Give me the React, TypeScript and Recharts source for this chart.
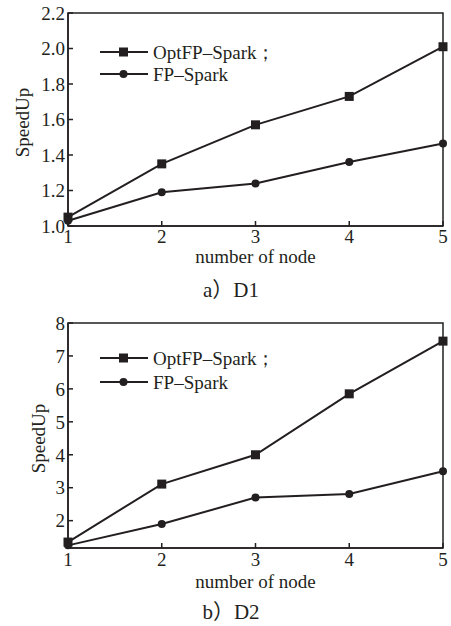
import React from 'react';
import { LineChart, Line, XAxis, YAxis, ReferenceArea, Legend } from 'recharts';

const nodes = [1, 2, 3, 4, 5];
const seriesNames = ['OptFP–Spark；', 'FP–Spark'];

// a) D1
const d1Opt = [1.05, 1.35, 1.57, 1.73, 2.01];
const d1Fp = [1.03, 1.19, 1.24, 1.36, 1.465];
const d1Ticks = [1.0, 1.2, 1.4, 1.6, 1.8, 2.0, 2.2];

// b) D2
const d2Opt = [1.35, 3.11, 4.0, 5.85, 7.45];
const d2Fp = [1.25, 1.9, 2.7, 2.81, 3.5];
const d2Ticks = [2, 3, 4, 5, 6, 7, 8];

const captions = ['a）D1', 'b）D2'];

const INK = '#231f20';
const SERIF = '"Liberation Serif", "Times New Roman", serif';
const CAPTION_FONT = '"Liberation Serif", "Noto Sans CJK SC", serif';

const squareDot = (p: any) => (
  <rect key={`sq-${p.index}`} x={p.cx - 4.5} y={p.cy - 4.5} width={9} height={9} fill={INK} />
);

const LegendBox = ({ gap }: { gap: number }) => (
  <svg width={200} height={gap + 26} style={{ display: 'block' }}>
    {seriesNames.map((name, i) => {
      const y = 12 + i * gap;
      return (
        <g key={name}>
          <line x1={4} x2={52} y1={y} y2={y} stroke={INK} strokeWidth={2} />
          {i === 0 ? (
            <rect x={23} y={y - 4.5} width={9} height={9} fill={INK} />
          ) : (
            <circle cx={27.5} cy={y} r={4} fill={INK} />
          )}
          <text x={57} y={y} dominantBaseline="central" fontFamily={SERIF} fontSize={19} fill={INK}>
            {name}
          </text>
        </g>
      );
    })}
  </svg>
);

type PanelProps = {
  opt: number[];
  fp: number[];
  ticks: number[];
  domain: [number, number];
  fmt: (v: number) => string;
  height: number;
  top: number;
  xTickMargin: number;
  titleOffset: number;
  yTitleX: number;
  legendTop: number;
  legendGap: number;
  caption: string;
  captionTop: number;
};

const Panel = (p: PanelProps) => {
  const data = nodes.map((n, i) => ({ node: n, opt: p.opt[i], fp: p.fp[i] }));
  return (
    <div style={{ position: 'absolute', left: 0, top: p.top, width: 451 }}>
      <LineChart width={451} height={p.height} data={data} margin={{ top: 13, right: 8, left: 0, bottom: 0 }}>
        <ReferenceArea x1={1} x2={5} y1={p.domain[0]} y2={p.domain[1]} fill="none" stroke={INK} strokeWidth={1.5} />
        <XAxis
          dataKey="node"
          type="number"
          domain={[1, 5]}
          ticks={nodes}
          height={44}
          tickSize={-5}
          tickMargin={p.xTickMargin}
          axisLine={{ stroke: INK, strokeWidth: 1.5 }}
          tickLine={{ stroke: INK, strokeWidth: 1.5 }}
          tick={{ fill: INK, fontFamily: SERIF, fontSize: 19 }}
          label={{ value: 'number of node', position: 'insideBottom', offset: p.titleOffset, fill: INK, fontFamily: SERIF, fontSize: 19 }}
        />
        <YAxis
          type="number"
          domain={p.domain}
          ticks={p.ticks}
          width={68}
          tickSize={-5}
          tickMargin={8}
          tickFormatter={p.fmt}
          axisLine={{ stroke: INK, strokeWidth: 1.5 }}
          tickLine={{ stroke: INK, strokeWidth: 1.5 }}
          tick={{ fill: INK, fontFamily: SERIF, fontSize: 19 }}
          label={{
            content: ({ viewBox }: any) => {
              const cy = viewBox.y + viewBox.height / 2 + 3;
              return (
                <text
                  x={p.yTitleX}
                  y={cy}
                  transform={`rotate(-90, ${p.yTitleX}, ${cy})`}
                  textAnchor="middle"
                  dominantBaseline="central"
                  fontFamily={SERIF}
                  fontSize={19}
                  fill={INK}
                >
                  SpeedUp
                </text>
              );
            },
          }}
        />
        <Legend
          layout="horizontal"
          verticalAlign="middle"
          wrapperStyle={{ left: 96, top: p.legendTop, width: 'auto', height: 'auto' }}
          content={() => <LegendBox gap={p.legendGap} />}
        />
        <Line dataKey="opt" name={seriesNames[0]} stroke={INK} strokeWidth={2} dot={squareDot} isAnimationActive={false} />
        <Line dataKey="fp" name={seriesNames[1]} stroke={INK} strokeWidth={2} dot={{ r: 4, fill: INK, stroke: INK, strokeWidth: 0 }} isAnimationActive={false} />
      </LineChart>
      <div
        style={{
          position: 'absolute',
          left: 0,
          width: 462,
          top: p.captionTop,
          height: 24,
          lineHeight: '24px',
          textAlign: 'center',
          fontFamily: CAPTION_FONT,
          fontSize: 21,
          color: INK,
        }}
      >
        {p.caption}
      </div>
    </div>
  );
};

export default function App() {
  return (
    <div style={{ position: 'absolute', left: 0, top: 0, width: 451, height: 626, background: '#fff', overflow: 'hidden' }}>
      <Panel
        opt={d1Opt}
        fp={d1Fp}
        ticks={d1Ticks}
        domain={[1.0, 2.2]}
        fmt={(v) => v.toFixed(1)}
        height={270}
        top={0}
        xTickMargin={9}
        titleOffset={7}
        yTitleX={22}
        legendTop={40}
        legendGap={22}
        caption={captions[0]}
        captionTop={278}
      />
      <Panel
        opt={d2Opt}
        fp={d2Fp}
        ticks={d2Ticks}
        domain={[1.17, 8]}
        fmt={(v) => String(v)}
        height={282}
        top={310}
        xTickMargin={10}
        titleOffset={4}
        yTitleX={38}
        legendTop={36}
        legendGap={24}
        caption={captions[1]}
        captionTop={290}
      />
    </div>
  );
}
